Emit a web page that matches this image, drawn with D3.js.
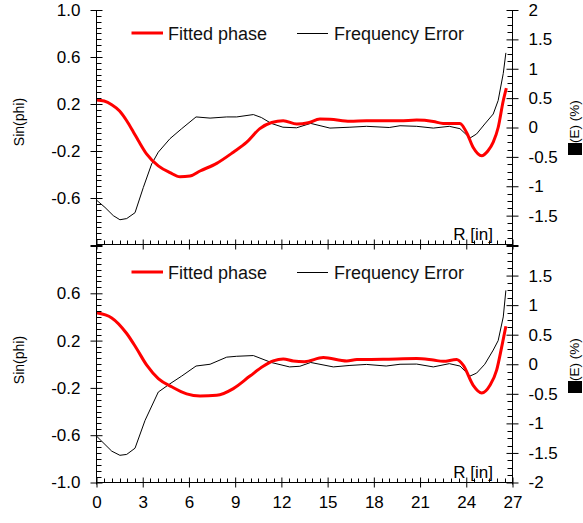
<!DOCTYPE html>
<html><head><meta charset="utf-8">
<script src="https://cdn.jsdelivr.net/npm/d3@7"></script>
<style>
html,body{margin:0;padding:0;background:#fff;}
svg{display:block;font-family:"Liberation Sans",Arial,sans-serif;}
</style></head>
<body><svg id="c" width="583" height="523"></svg>
<script>
// ---- data ----
const xTicks = [0,3,6,9,12,15,18,21,24,27];
const leftTicks = [1.0,0.6,0.2,-0.2,-0.6,-1.0];
const rightTicks = [2,1.5,1,0.5,0,-0.5,-1,-1.5,-2];
const seriesNames = ["Fitted phase","Frequency Error"];

const topPhase = [[0,0.234],[0.5,0.225],[0.99,0.194],[1.5,0.14],[1.96,0.057],[2.4,-0.04],[2.71,-0.11],[3.26,-0.227],[4.01,-0.327],[4.77,-0.384],[5.42,-0.419],[6.07,-0.413],[6.72,-0.37],[7.8,-0.305],[8.88,-0.21],[9.75,-0.125],[10.6,-0.01],[11.37,0.043],[12.12,0.057],[13.0,0.029],[13.74,0.04],[14.5,0.072],[15.15,0.07],[16.45,0.053],[17.53,0.057],[19.7,0.057],[20.78,0.063],[21.86,0.051],[22.5,0.034],[23.59,0.034],[24.02,-0.043],[24.45,-0.17],[25.0,-0.24],[25.4,-0.2],[25.75,-0.125],[26.07,0.0],[26.4,0.228],[26.6,0.336]];
const topFreq = [[0,-1.236],[0.55,-1.36],[1.09,-1.50],[1.52,-1.57],[1.96,-1.55],[2.5,-1.45],[3.04,-1.02],[3.58,-0.62],[4.01,-0.42],[4.77,-0.19],[5.53,-0.02],[6.46,0.18],[7.37,0.16],[8.45,0.18],[9.1,0.18],[10.18,0.22],[10.7,0.17],[11.34,0.07],[12.1,0.005],[12.99,-0.005],[13.9,0.07],[15.15,-0.01],[16.45,0.005],[17.53,0.02],[19.0,0],[19.7,0.03],[20.78,0.02],[21.86,-0.01],[22.9,0.02],[23.59,-0.02],[24.24,-0.18],[24.67,-0.11],[25.2,0.06],[25.75,0.23],[26.07,0.46],[26.4,0.92],[26.57,1.27]];
const botPhase = [[0,0.435],[0.99,0.392],[1.96,0.26],[2.6,0.133],[3.26,-0.008],[4.01,-0.121],[4.88,-0.19],[5.85,-0.25],[6.72,-0.268],[7.8,-0.263],[8.88,-0.206],[9.96,-0.10],[10.82,-0.017],[11.47,0.028],[12.12,0.045],[12.77,0.028],[13.5,0.022],[14.72,0.057],[16.24,0.028],[16.9,0.04],[18.6,0.042],[20.78,0.048],[21.86,0.035],[22.5,0.025],[23.37,0.04],[23.8,-0.008],[24.45,-0.178],[25.0,-0.243],[25.54,-0.178],[25.97,-0.05],[26.3,0.147],[26.57,0.322]];
const botFreq = [[0,-1.215],[0.99,-1.47],[1.52,-1.54],[1.96,-1.525],[2.5,-1.42],[3.15,-0.95],[4.01,-0.47],[4.77,-0.33],[5.53,-0.20],[6.46,-0.03],[7.37,0.0],[8.45,0.12],[9.1,0.135],[10.18,0.147],[11.34,0.03],[12.53,-0.045],[13.2,-0.034],[13.9,0.03],[15.37,-0.045],[16.45,-0.02],[17.53,-0.003],[18.8,-0.03],[19.7,0],[20.78,0.003],[21.86,-0.045],[22.9,0.01],[23.59,-0.03],[24.24,-0.2],[24.67,-0.15],[25.2,0.0],[25.75,0.24],[26.07,0.4],[26.4,0.8],[26.57,1.25]];

// ---- drawing ----
const svg = d3.select("#c");
const x = d3.scaleLinear().domain([0,27]).range([96.5,512.5]);
const fmt = v => (v<0?"-":"") + Math.abs(v).toFixed(1);
const fmtR = v => (v<0?"-":"") + String(Math.abs(v));
const FS = 17;

function minorVals(lo, hi, step, majors){
  const out=[]; const n=Math.round((hi-lo)/step);
  for(let i=0;i<=n;i++){const v=lo+i*step; if(!majors.some(m=>Math.abs(m-v)<1e-9)) out.push(v);}
  return out;
}

function panel(top, bottom, phase, freq, hideLeft, hideRight, showXLabels, legendY, titleCY){
  const yL = d3.scaleLinear().domain([-1,1]).range([bottom, top]);
  const yR = d3.scaleLinear().domain([-2,2]).range([bottom, top]);
  const g = svg.append("g");
  const xAxisY = Math.round(bottom)-0.5;

  // lines
  g.append("path").datum(freq)
    .attr("fill","none").attr("stroke","#000").attr("stroke-width",1)
    .attr("d", d3.line().x(d=>x(d[0])).y(d=>yR(d[1])));
  g.append("path").datum(phase)
    .attr("fill","none").attr("stroke","#ff0000").attr("stroke-width",3).attr("stroke-linejoin","round")
    .attr("d", d3.line().curve(d3.curveMonotoneX).x(d=>x(d[0])).y(d=>yL(d[1])));

  // left axis
  const la = g.append("g").attr("transform","translate(96.5,0)")
    .call(d3.axisLeft(yL).tickValues(leftTicks).tickSize(6).tickPadding(10)
      .tickFormat(v => hideLeft.includes(v) ? "" : fmt(v)));
  la.selectAll(".tick line").attr("x2",-6).attr("x1",6);
  la.select(".domain").attr("d",`M0,${top}V${bottom+2}`);
  la.append("g").selectAll("line").data(minorVals(-1,1,0.05,leftTicks)).join("line")
    .attr("x1",0).attr("x2",5).attr("y1",d=>Math.round(yL(d))+0.5).attr("y2",d=>Math.round(yL(d))+0.5).attr("stroke","#000");

  // right axis
  const ra = g.append("g").attr("transform","translate(512.5,0)")
    .call(d3.axisRight(yR).tickValues(rightTicks).tickSize(6).tickPadding(10)
      .tickFormat(v => hideRight.includes(v) ? "" : fmtR(v)));
  ra.selectAll(".tick line").attr("x1",-6).attr("x2",6);
  ra.select(".domain").attr("d",`M0,${top}V${bottom+2}`);
  ra.append("g").selectAll("line").data(minorVals(-2,2,0.125,rightTicks)).join("line")
    .attr("x1",0).attr("x2",-5).attr("y1",d=>Math.round(yR(d))+0.5).attr("y2",d=>Math.round(yR(d))+0.5).attr("stroke","#000");

  // x axis
  const xa = g.append("g").attr("transform",`translate(0,${xAxisY})`)
    .call(d3.axisBottom(x).tickValues(xTicks).tickSize(5).tickPadding(8)
      .tickFormat(v => showXLabels ? String(v) : ""));
  xa.selectAll(".tick line").attr("y1",-5).attr("y2",5);
  xa.select(".domain").attr("d","M96.5,0H512.5");
  xa.append("g").selectAll("line").data(minorVals(0,27,0.5,xTicks)).join("line")
    .attr("y1",0).attr("y2",-4).attr("x1",d=>Math.round(x(d))+0.5).attr("x2",d=>Math.round(x(d))+0.5).attr("stroke","#000");

  [la,ra,xa].forEach(a=>{
    a.attr("font-family",null).attr("font-size",null);
    a.selectAll("text").attr("font-size",FS).attr("fill","#000").style("font-family","'Liberation Sans',Arial,sans-serif");
    a.selectAll("line,path").attr("stroke","#000");
  });

  // R [in]
  g.append("text").attr("x",493).attr("y",bottom-5).attr("text-anchor","end")
    .attr("font-size",FS).attr("fill","#000").text("R [in]");

  // legend
  const lg = g.append("g");
  lg.append("line").attr("x1",131.5).attr("x2",163).attr("y1",legendY).attr("y2",legendY)
    .attr("stroke","#ff0000").attr("stroke-width",3);
  lg.append("text").attr("x",168).attr("y",legendY+7).attr("font-size",18).attr("fill","#111").text(seriesNames[0]);
  lg.append("line").attr("x1",297).attr("x2",328).attr("y1",legendY+0.5).attr("y2",legendY+0.5)
    .attr("stroke","#000").attr("stroke-width",1);
  lg.append("text").attr("x",334).attr("y",legendY+7).attr("font-size",18).attr("fill","#111").text(seriesNames[1]);

  // y titles
  g.append("text").attr("transform",`translate(24,${titleCY-4}) rotate(-90)`)
    .attr("text-anchor","middle").attr("font-size",14).attr("fill","#000").text("Sin(phi)");
  const rt = g.append("g").attr("transform",`translate(579,${titleCY}) rotate(-90)`);
  rt.append("rect").attr("x",-29).attr("y",-11).attr("width",12).attr("height",14).attr("fill","#000");
  rt.append("text").attr("x",-17).attr("y",0).attr("font-size",13.5).attr("fill","#000").text("(E) (%)");
}

panel(10, 245, topPhase, topFreq, [-1.0], [-2], false, 33, 126);
panel(246, 482.5, botPhase, botFreq, [1.0], [2], true, 272, 364);
</script>
</body></html>
